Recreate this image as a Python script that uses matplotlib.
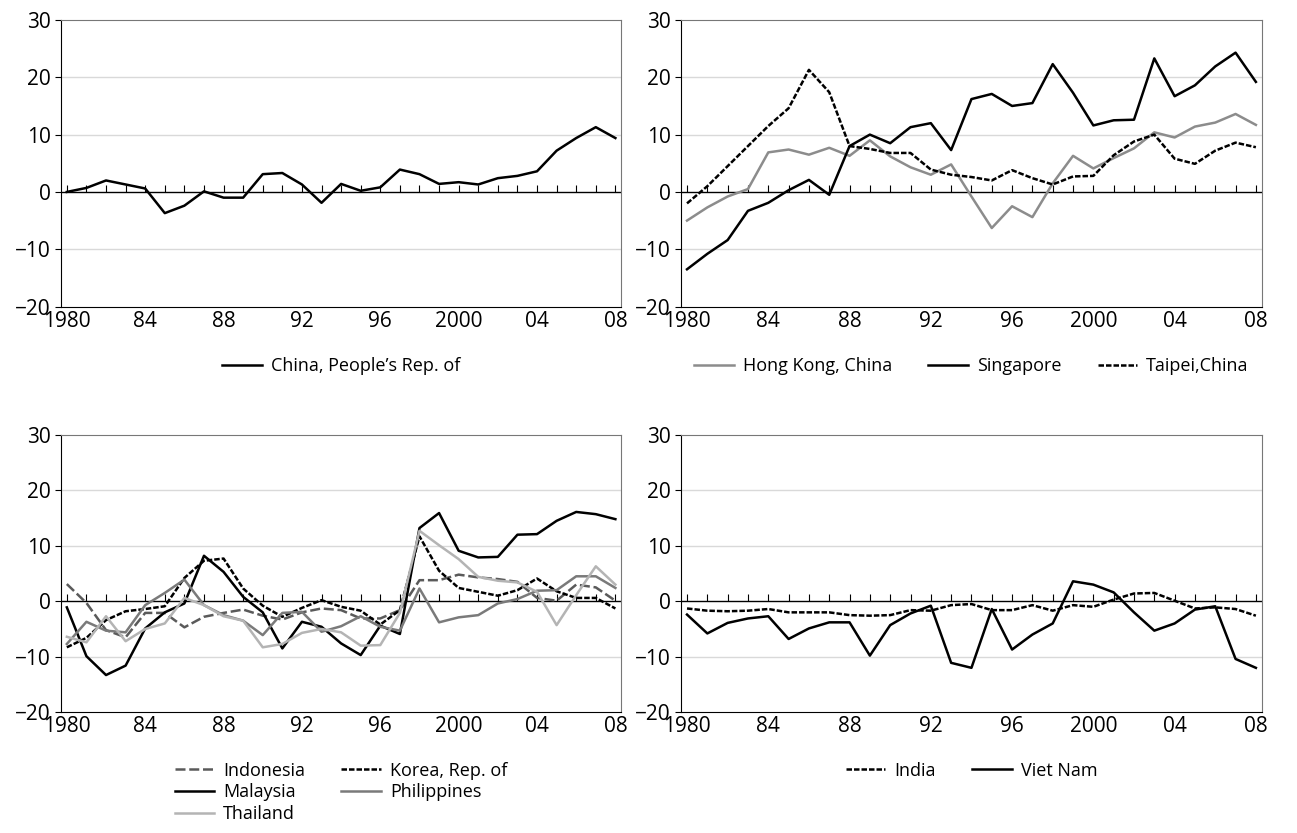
import matplotlib.pyplot as plt
import numpy as np

plt.rcParams['font.family'] = ['Open Sans', 'DejaVu Sans']

years = np.arange(1980, 2009)

china = [0, 0.7, 2, 1.3, 0.6, -3.7, -2.4, 0.1, -1, -1, 3.1, 3.3, 1.3, -1.9, 1.4, 0.2, 0.8, 3.9, 3.1,
         1.4, 1.7, 1.3, 2.4, 2.8, 3.6, 7.2, 9.4, 11.3, 9.4]

hong_kong = [-5, -2.7, -0.8, 0.5, 6.9, 7.4, 6.5, 7.7, 6.3, 9, 6.2, 4.3, 3, 4.8, -0.8, -6.3, -2.5, -4.4,
             1.5, 6.3, 4.1, 5.9, 7.6, 10.4, 9.5, 11.4, 12.1, 13.6, 11.7]
singapore = [-13.5, -10.8, -8.4, -3.3, -1.9, 0.3, 2.1, -0.5, 8, 10, 8.5, 11.3, 12, 7.3, 16.2, 17.1, 15,
             15.5, 22.3, 17.3, 11.6, 12.5, 12.6, 23.3, 16.7, 18.6, 21.9, 24.3, 19.2]
taipei = [-2, 1, 4.5, 8, 11.5, 14.6, 21.3, 17.4, 8, 7.5, 6.8, 6.8, 3.9, 3, 2.6, 2, 3.8, 2.4, 1.3, 2.7,
          2.8, 6.4, 8.8, 10, 5.8, 4.9, 7.2, 8.6, 7.8]

indonesia = [3.1, -0.3, -5.2, -6.5, -2.1, -2.1, -4.7, -2.8, -2.1, -1.5, -2.6, -3.3, -2, -1.3, -1.6, -3.1,
             -3.1, -1.6, 3.8, 3.8, 4.8, 4.3, 4, 3.5, 0.6, 0.1, 3, 2.5, 0.1]
korea = [-8.3, -6.6, -3.4, -1.8, -1.4, -0.9, 4.2, 7.3, 7.7, 2.3, -0.8, -2.8, -1.2, 0.2, -1, -1.7, -4.2,
         -1.6, 11.7, 5.5, 2.4, 1.7, 1, 2, 4.1, 1.8, 0.6, 0.6, -1.3]
malaysia = [-1.1, -9.9, -13.3, -11.6, -4.9, -2, -0.4, 8.2, 5.3, 0.8, -2, -8.5, -3.7, -4.6, -7.6, -9.7,
            -4.4, -5.9, 13.2, 15.9, 9.1, 7.9, 8, 12, 12.1, 14.5, 16.1, 15.7, 14.8]
philippines = [-7.7, -3.7, -5.3, -5.6, -0.7, 1.5, 3.9, -0.7, -2.5, -3.5, -6.1, -2.1, -1.9, -5.5, -4.5,
               -2.7, -4.6, -5.3, 2.3, -3.8, -2.9, -2.5, -0.4, 0.4, 1.9, 2, 4.5, 4.5, 2.4]
thailand = [-6.4, -7.4, -2.7, -7.2, -5, -4, 0.6, -0.7, -2.7, -3.5, -8.3, -7.7, -5.7, -5, -5.6, -8, -7.9,
            -2.1, 12.7, 10.1, 7.6, 4.4, 3.7, 3.4, 1.7, -4.3, 1.1, 6.3, 3]

india = [-1.3, -1.7, -1.8, -1.7, -1.4, -2, -2, -2, -2.5, -2.6, -2.5, -1.6, -1.7, -0.7, -0.5, -1.6, -1.6,
         -0.7, -1.7, -0.7, -1, 0.3, 1.4, 1.5, 0.1, -1.3, -1.1, -1.4, -2.6]
viet_nam = [-2.4, -5.8, -3.9, -3.1, -2.7, -6.8, -4.9, -3.8, -3.8, -9.8, -4.3, -2.2, -0.8, -11.1, -12,
            -1.4, -8.7, -6, -4, 3.6, 3, 1.6, -2, -5.3, -4, -1.5, -0.9, -10.4, -12]

tick_years = [1980, 1984, 1988, 1992, 1996, 2000, 2004, 2008]
tick_labels = ['1980', '84', '88', '92', '96', '2000', '04', '08']

dash = (0, (2.2, 0.8))
dash2 = (0, (4, 1.5))

panels = [
    [('China, People\u2019s Rep. of', china, 'black', '-')],
    [('Hong Kong, China', hong_kong, '#8c8c8c', '-'),
     ('Singapore', singapore, 'black', '-'),
     ('Taipei,China', taipei, 'black', dash)],
    [('Indonesia', indonesia, '#5a5a5a', dash2),
     ('Korea, Rep. of', korea, 'black', dash),
     ('Malaysia', malaysia, 'black', '-'),
     ('Philippines', philippines, '#7a7a7a', '-'),
     ('Thailand', thailand, '#b4b4b4', '-')],
    [('India', india, 'black', dash),
     ('Viet Nam', viet_nam, 'black', '-')],
]
ncols = [1, 3, 2, 2]
# legend entry order so that the two-column legend reads row by row
orders = [[0], [0, 1, 2], [0, 2, 4, 1, 3], [0, 1]]

fig = plt.figure(figsize=(12.97, 8.33), dpi=100)
rects = [[0.047, 0.632, 0.432, 0.344], [0.525, 0.632, 0.448, 0.344],
         [0.047, 0.145, 0.432, 0.333], [0.525, 0.145, 0.448, 0.333]]

for rect, series, nc, order in zip(rects, panels, ncols, orders):
    ax = fig.add_axes(rect)
    for name, vals, col, ls in series:
        ax.plot(years, vals, color=col, linestyle=ls, linewidth=1.8, label=name)
    ax.set_xlim(1979.7, 2008.3)
    ax.set_ylim(-20, 30)
    ax.set_yticks([-20, -10, 0, 10, 20, 30])
    ax.set_yticklabels(['\u221220', '\u221210', '0', '10', '20', '30'])
    for g in [-10, 10, 20]:
        ax.axhline(g, color='#d9d9d9', linewidth=1, zorder=0)
    ax.axhline(0, color='black', linewidth=1, zorder=1)
    ax.set_xticks(tick_years)
    ax.set_xticklabels(tick_labels)
    ax.tick_params(axis='x', length=0, labelsize=15, pad=3)
    ax.tick_params(axis='y', length=4, labelsize=15, direction='out')
    for s in ['top', 'right']:
        ax.spines[s].set_color('#777777')
    sec = ax.secondary_xaxis(0.4)
    sec.set_xticks(years)
    sec.tick_params(direction='in', length=5, labelbottom=False, width=0.8)
    sec.spines['bottom'].set_visible(False)
    h, l = ax.get_legend_handles_labels()
    ax.legend([h[i] for i in order], [l[i] for i in order],
              loc='upper center', bbox_to_anchor=(0.5, -0.12), ncol=nc, frameon=False,
              fontsize=13, handlelength=2.2, columnspacing=2.0, labelspacing=0.2,
              handletextpad=0.5)

fig.savefig('out.png', dpi=100)
